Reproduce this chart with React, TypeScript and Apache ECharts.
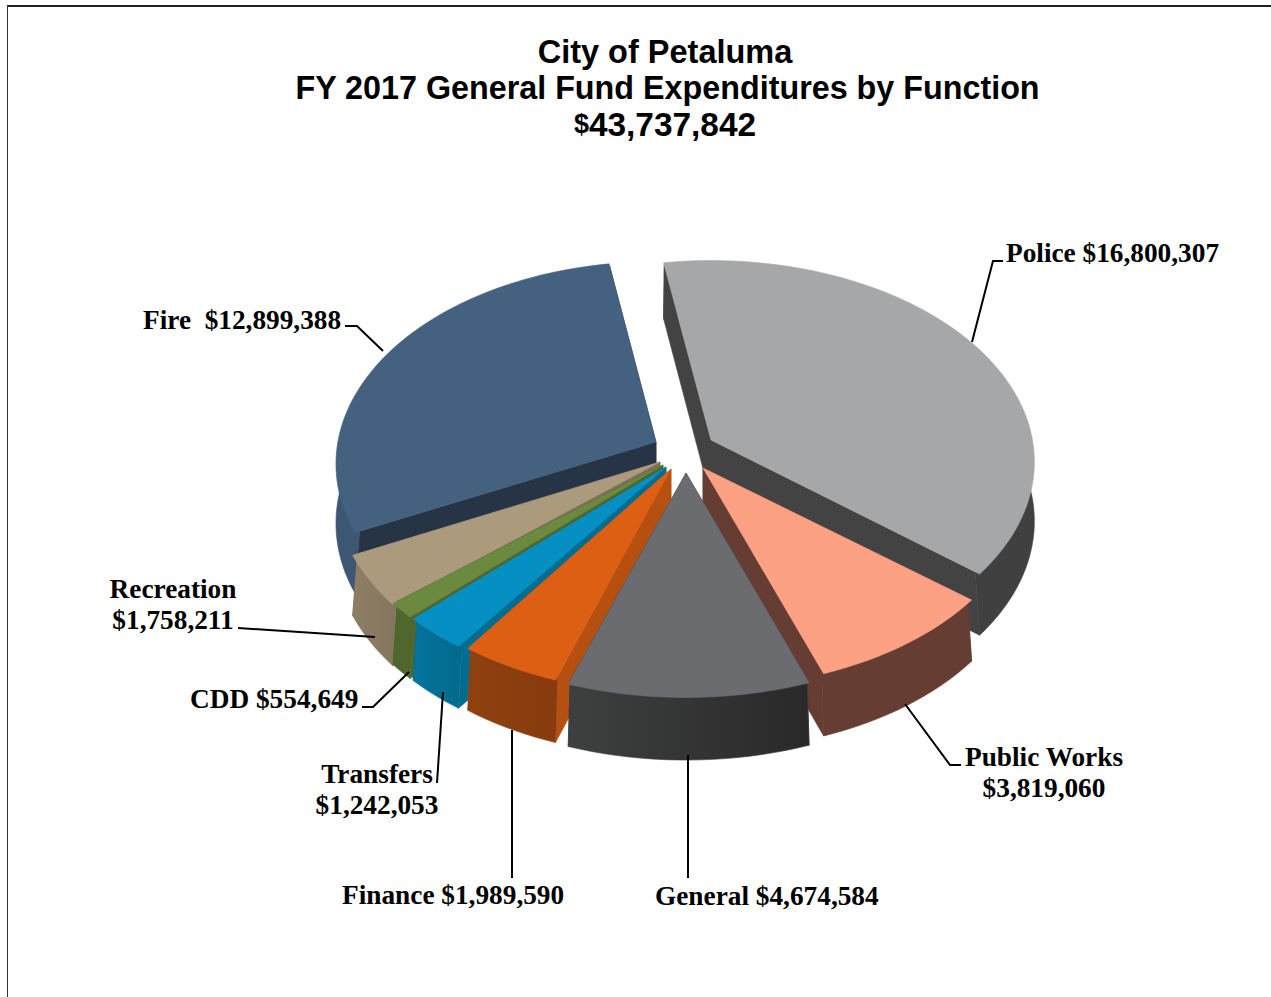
import React, { useEffect, useRef } from "react";
import * as echarts from "echarts";

// FY 2017 expenditures by function, clockwise from the top of the pie.
const categories = ["Police", "Public Works", "General", "Finance", "Transfers", "CDD", "Recreation", "Fire"];
const amounts = [16800307, 3819060, 4674584, 1989590, 1242053, 554649, 1758211, 12899388];
const grandTotal = 43737842;

const topColors = ["#a6a7a9", "#fda185", "#6b6c70", "#dd5f14", "#058fc3", "#6b8a3f", "#ab9a7c", "#44617f"];
const cutColors = ["#434343", "#653d33", "#3a3b3c", "#b65011", "#046c8f", "#4f672d", "#7b6e5a", "#263446"];
const wallFrom = ["#434343", "#653d33", "#3e3f3f", "#8f4010", "#04739b", "#4f672d", "#8e7e65", "#3d5674"];
const wallTo = ["#404040", "#653d33", "#29292a", "#873b0e", "#046a8d", "#4f672d", "#84755e", "#3d5674"];

// Where each wedge's point sits after being pulled out of the pie, its size, and its paint order (back to front).
const apexX = [711, 703, 686, 671, 666, 663, 660, 656];
const apexY = [440, 468, 473, 469, 467, 465, 462, 442];
const scaleX = [0.98, 0.98, 1, 0.98, 1, 1, 0.99, 0.97];
const scaleY = [0.995, 0.98, 1, 1, 1, 1, 1.03, 1];
const paintOrder = [1, 6, 7, 5, 4, 3, 2, 0];

const START_DEG = -9.4;
const RADIUS_X = 328;
const RADIUS_Y = 200;
const PERSPECTIVE = 0.109;
const THICKNESS = 59;

const project = (i: number, deg: number, frac: number, drop: number) => {
  const a = (deg * Math.PI) / 180;
  const near = -Math.cos(a) * frac;
  const s = 1 / (1 - PERSPECTIVE * near);
  return [
    apexX[i] + RADIUS_X * scaleX[i] * Math.sin(a) * frac * s,
    apexY[i] + RADIUS_Y * scaleY[i] * near * s + (drop * (1 + s)) / 2,
  ];
};

const renderWedge = (_params: any, api: any) => {
  const i = api.value(0);
  const sweep = (api.value(1) / grandTotal) * 360;
  let before = 0;
  for (let k = 0; k < i; k++) before += amounts[k];
  const a0 = START_DEG + (before / grandTotal) * 360;
  const steps = Math.max(3, Math.ceil(sweep / 2));
  const rimTop: number[][] = [];
  const rimInner: number[][] = [];
  const rimBottom: number[][] = [];
  for (let n = 0; n <= steps; n++) {
    const d = a0 + (sweep * n) / steps;
    rimTop.push(project(i, d, 1, 0));
    // The wall starts just inside the rim so the top face hides its upper edge.
    rimInner.push(project(i, d, 0.985, 0));
    rimBottom.push(project(i, d, 1, THICKNESS));
  }
  const apexTop = project(i, a0, 0, 0);
  const apexBottom = project(i, a0, 0, THICKNESS);
  const base = paintOrder[i] * 10;
  const poly = (points: number[][], fill: any, z: number) => ({
    type: "polygon",
    z2: base + z,
    silent: true,
    shape: { points },
    style: { fill, stroke: typeof fill === "string" ? fill : wallFrom[i], lineWidth: 0.6 },
  });
  return {
    type: "group",
    children: [
      poly([apexTop, rimInner[0], rimBottom[0], apexBottom], cutColors[i], 0),
      poly([apexTop, rimInner[steps], rimBottom[steps], apexBottom], cutColors[i], 1),
      poly(
        [...rimInner, ...rimBottom.slice().reverse()],
        {
          type: "linear",
          x: 0,
          y: 0,
          x2: 1,
          y2: 0,
          colorStops: [
            { offset: 0, color: wallFrom[i] },
            { offset: 1, color: wallTo[i] },
          ],
        },
        2,
      ),
      poly([apexTop, ...rimTop], topColors[i], 3),
    ],
  };
};

const money = (v: number) => "$" + v.toLocaleString("en-US");

const labelFont = { fontFamily: "Liberation Serif", fontWeight: "bold", fontSize: 27.3, fill: "#000" };

const label = (text: string, x: number, y: number, align: string) => ({
  type: "text",
  x,
  y,
  silent: true,
  z: 20,
  style: { ...labelFont, text, align, verticalAlign: "middle", lineHeight: 31 },
});

const leader = (points: number[][]) => ({
  type: "polyline",
  silent: true,
  z: 20,
  shape: { points },
  style: { fill: "none", stroke: "#000", lineWidth: 2 },
});

const titleFont = { fontFamily: "Liberation Sans", fontWeight: "bold", color: "#000", lineHeight: 36 };

export default function App() {
  const ref = useRef<HTMLDivElement>(null);
  useEffect(() => {
    if (!ref.current) return;
    const chart = echarts.init(ref.current, undefined, { renderer: "svg" });
    chart.setOption({
      animation: false,
      backgroundColor: "#fff",
      title: [
        { text: "City of Petaluma", left: 660, top: 29, textAlign: "center", textStyle: { ...titleFont, fontSize: 32.5 } },
        {
          text: "FY 2017 General Fund Expenditures by Function",
          left: 662.5,
          top: 65,
          textAlign: "center",
          textStyle: { ...titleFont, fontSize: 32.3 },
        },
        {
          text: `{s|$}{b|${grandTotal.toLocaleString("en-US")}}`,
          left: 660,
          top: 101,
          textAlign: "center",
          textStyle: {
            rich: {
              b: { ...titleFont, fontSize: 33.4 },
              s: { ...titleFont, fontSize: 27 },
            },
          },
        },
      ],
      series: [
        {
          type: "custom",
          coordinateSystem: "none",
          silent: true,
          renderItem: renderWedge,
          data: amounts.map((v, i) => [i, v]),
        },
      ],
      graphic: [
        { type: "line", shape: { x1: 7, y1: 6, x2: 1271, y2: 6 }, style: { stroke: "#222", lineWidth: 2 } },
        { type: "line", shape: { x1: 7.5, y1: 6, x2: 7.5, y2: 997 }, style: { stroke: "#333", lineWidth: 1 } },
        label(`${categories[0]} ${money(amounts[0])}`, 1006, 253, "left"),
        label(`${categories[1]}\n${money(amounts[1])}`, 1044, 772, "center"),
        label(`${categories[2]} ${money(amounts[2])}`, 655, 896, "left"),
        label(`${categories[3]} ${money(amounts[3])}`, 342, 895, "left"),
        label(`${categories[4]}\n${money(amounts[4])}`, 377, 789, "center"),
        label(`${categories[5]} ${money(amounts[5])}`, 190, 699, "left"),
        label(`${categories[6]}\n${money(amounts[6])}`, 173, 604, "center"),
        label(`${categories[7]}  ${money(amounts[7])}`, 143, 320, "left"),
        leader([[1003, 261], [993, 261], [972, 342]]),
        leader([[905, 704], [950, 765], [961, 765]]),
        leader([[688, 755], [688, 878]]),
        leader([[512, 730], [512, 878]]),
        leader([[443, 692], [437, 783]]),
        leader([[409, 672], [373, 707], [362, 707]]),
        leader([[375, 637], [238, 628]]),
        leader([[345, 326], [357, 326], [383, 351]]),
      ],
    });
    return () => chart.dispose();
  }, []);
  return <div ref={ref} style={{ position: "absolute", left: 0, top: 0, width: 1271, height: 997 }} />;
}
